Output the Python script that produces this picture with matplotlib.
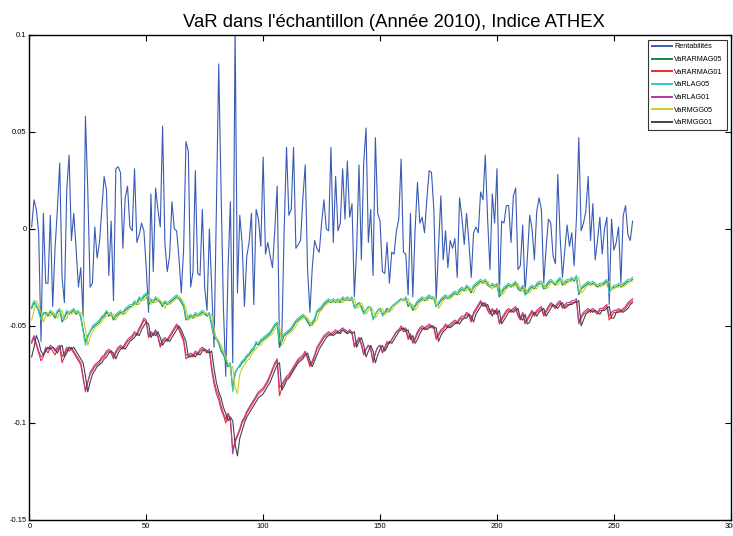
import matplotlib
matplotlib.use('Agg')
import matplotlib.pyplot as plt
import numpy as np

plt.rcParams['font.family'] = ['Liberation Sans', 'DejaVu Sans']

# rendements journaliers de l'indice ATHEX (2010)
rentabilites = [
    0.001, 0.015, 0.010, -0.002, -0.058, 0.008, -0.028, -0.028, 0.007, -0.040,
    -0.010, 0.010, 0.034, -0.025, -0.038, 0.020, 0.038, -0.006, 0.008, -0.010,
    -0.030, -0.020, -0.045, 0.058, 0.020, -0.030, -0.028, 0.001, -0.015, -0.007,
    0.010, 0.027, 0.020, -0.024, 0.004, -0.037, 0.031, 0.032, 0.029, -0.010,
    0.016, 0.022, 0.001, -0.001, 0.031, -0.007, -0.003, 0.003, -0.001, -0.020,
    -0.043, 0.018, -0.022, 0.021, 0.010, 0.001, 0.053, -0.008, -0.022, -0.014,
    0.014, 0.000, -0.001, -0.015, -0.033, -0.010, 0.045, 0.040, -0.030, -0.022,
    0.030, -0.023, -0.024, 0.010, -0.030, -0.042, 0.000, -0.030, -0.061, 0.010,
    0.085, 0.020, -0.040, -0.076, -0.020, 0.014, -0.069, 0.104, -0.033, 0.007,
    -0.007, -0.040, -0.014, -0.007, 0.008, -0.039, 0.010, 0.005, -0.009, 0.037,
    -0.013, -0.007, -0.014, -0.020, 0.000, 0.022, -0.061, -0.055, 0.000, 0.042,
    0.007, 0.010, 0.042, -0.010, -0.008, -0.006, 0.016, 0.033, -0.021, -0.043,
    -0.020, -0.006, -0.010, -0.012, 0.003, 0.015, 0.000, -0.001, 0.042, -0.007,
    0.027, -0.001, 0.003, 0.031, 0.005, 0.035, 0.006, 0.013, -0.035, -0.010,
    0.033, -0.016, 0.034, 0.052, -0.007, 0.010, -0.024, 0.047, 0.008, 0.004,
    -0.022, -0.023, -0.007, -0.028, -0.012, -0.013, -0.001, 0.005, 0.036, -0.012,
    -0.013, -0.034, 0.008, -0.035, 0.000, 0.024, 0.003, 0.006, -0.002, 0.015,
    0.030, 0.029, 0.010, -0.037, -0.010, 0.017, -0.016, -0.001, -0.020, -0.006,
    -0.010, -0.005, -0.025, 0.016, 0.006, -0.008, 0.008, -0.007, -0.025, -0.002,
    0.001, -0.002, 0.019, 0.015, 0.038, 0.005, -0.021, 0.018, 0.003, 0.031,
    -0.035, 0.004, 0.003, 0.012, 0.012, -0.007, 0.017, 0.021, -0.021, -0.019,
    0.002, -0.033, -0.015, 0.007, 0.000, -0.016, 0.009, 0.016, 0.010, -0.028,
    -0.010, 0.005, 0.003, -0.014, -0.018, 0.028, -0.004, -0.025, -0.011, 0.002,
    -0.009, -0.002, -0.019, 0.006, 0.047, -0.001, 0.003, 0.009, 0.027, -0.006,
    0.013, -0.016, -0.006, 0.006, -0.013, 0.000, 0.006, -0.039, 0.005, -0.011,
    -0.007, 0.001, -0.028, 0.007, 0.012, -0.003, -0.006, 0.004]

var_armag05 = [
    -0.041, -0.038, -0.040, -0.042, -0.046, -0.044, -0.043, -0.045, -0.043, -0.044,
    -0.046, -0.043, -0.042, -0.048, -0.046, -0.043, -0.044, -0.043, -0.042, -0.044,
    -0.043, -0.045, -0.052, -0.058, -0.055, -0.053, -0.051, -0.050, -0.049, -0.048,
    -0.046, -0.045, -0.043, -0.045, -0.044, -0.047, -0.045, -0.044, -0.043, -0.044,
    -0.042, -0.041, -0.040, -0.040, -0.038, -0.039, -0.036, -0.037, -0.035, -0.034,
    -0.039, -0.037, -0.038, -0.036, -0.037, -0.038, -0.040, -0.038, -0.039, -0.038,
    -0.037, -0.036, -0.035, -0.036, -0.038, -0.040, -0.047, -0.046, -0.045, -0.046,
    -0.044, -0.045, -0.044, -0.043, -0.044, -0.045, -0.044, -0.050, -0.056, -0.057,
    -0.059, -0.063, -0.065, -0.068, -0.071, -0.070, -0.083, -0.074, -0.072, -0.071,
    -0.069, -0.068, -0.066, -0.065, -0.063, -0.062, -0.059, -0.060, -0.058, -0.057,
    -0.056, -0.055, -0.054, -0.052, -0.050, -0.049, -0.061, -0.058, -0.055, -0.054,
    -0.053, -0.052, -0.050, -0.048, -0.047, -0.046, -0.045, -0.046, -0.048, -0.050,
    -0.049, -0.047, -0.043, -0.042, -0.041, -0.039, -0.038, -0.037, -0.038, -0.037,
    -0.038, -0.037, -0.038, -0.036, -0.037, -0.036, -0.037, -0.036, -0.040, -0.039,
    -0.038, -0.040, -0.043, -0.042, -0.040, -0.041, -0.046, -0.044, -0.042, -0.041,
    -0.044, -0.043, -0.041, -0.042, -0.040, -0.039, -0.038, -0.037, -0.036, -0.037,
    -0.036, -0.040, -0.039, -0.042, -0.040, -0.038, -0.037, -0.036, -0.037, -0.036,
    -0.035, -0.036, -0.036, -0.040, -0.039, -0.037, -0.036, -0.035, -0.036, -0.035,
    -0.034, -0.033, -0.034, -0.032, -0.031, -0.032, -0.030, -0.031, -0.033, -0.030,
    -0.029, -0.028, -0.027, -0.028, -0.027, -0.029, -0.030, -0.029, -0.030, -0.029,
    -0.035, -0.033, -0.031, -0.030, -0.029, -0.030, -0.029, -0.028, -0.031, -0.032,
    -0.030, -0.034, -0.033, -0.031, -0.030, -0.031, -0.029, -0.028, -0.028, -0.031,
    -0.030, -0.028, -0.027, -0.028, -0.029, -0.027, -0.026, -0.029, -0.028, -0.027,
    -0.027, -0.026, -0.027, -0.025, -0.034, -0.031, -0.030, -0.029, -0.028, -0.029,
    -0.028, -0.029, -0.030, -0.029, -0.029, -0.028, -0.027, -0.032, -0.031, -0.030,
    -0.030, -0.029, -0.030, -0.029, -0.028, -0.027, -0.027, -0.026]

var_armag01 = [
    -0.059, -0.056, -0.060, -0.064, -0.068, -0.066, -0.062, -0.064, -0.061, -0.063,
    -0.065, -0.062, -0.061, -0.069, -0.066, -0.062, -0.063, -0.062, -0.064, -0.066,
    -0.068, -0.070, -0.077, -0.083, -0.079, -0.075, -0.073, -0.071, -0.070, -0.069,
    -0.067, -0.066, -0.064, -0.063, -0.064, -0.067, -0.064, -0.062, -0.061, -0.062,
    -0.060, -0.058, -0.057, -0.056, -0.054, -0.055, -0.052, -0.050, -0.047, -0.048,
    -0.056, -0.054, -0.055, -0.053, -0.056, -0.061, -0.058, -0.057, -0.058, -0.056,
    -0.054, -0.052, -0.050, -0.052, -0.055, -0.058, -0.067, -0.066, -0.065, -0.066,
    -0.064, -0.065, -0.063, -0.062, -0.063, -0.064, -0.063, -0.073, -0.080, -0.085,
    -0.088, -0.093, -0.096, -0.100, -0.096, -0.099, -0.114, -0.110, -0.107, -0.104,
    -0.100, -0.098, -0.095, -0.093, -0.091, -0.089, -0.087, -0.085, -0.084, -0.083,
    -0.081, -0.079, -0.076, -0.073, -0.070, -0.068, -0.086, -0.082, -0.079, -0.077,
    -0.076, -0.074, -0.072, -0.070, -0.068, -0.067, -0.066, -0.064, -0.067, -0.071,
    -0.069, -0.066, -0.062, -0.060, -0.058, -0.056, -0.055, -0.054, -0.055, -0.054,
    -0.053, -0.054, -0.053, -0.052, -0.053, -0.054, -0.053, -0.054, -0.060, -0.058,
    -0.056, -0.059, -0.064, -0.062, -0.060, -0.062, -0.068, -0.064, -0.061, -0.060,
    -0.063, -0.061, -0.058, -0.059, -0.057, -0.055, -0.053, -0.052, -0.051, -0.053,
    -0.052, -0.057, -0.055, -0.059, -0.057, -0.054, -0.052, -0.051, -0.052, -0.051,
    -0.050, -0.051, -0.051, -0.057, -0.055, -0.053, -0.052, -0.050, -0.051, -0.050,
    -0.049, -0.048, -0.049, -0.047, -0.046, -0.046, -0.044, -0.045, -0.048, -0.044,
    -0.042, -0.040, -0.038, -0.040, -0.039, -0.042, -0.044, -0.042, -0.044, -0.042,
    -0.049, -0.047, -0.045, -0.043, -0.042, -0.043, -0.042, -0.041, -0.045, -0.047,
    -0.044, -0.049, -0.047, -0.045, -0.043, -0.045, -0.043, -0.042, -0.041, -0.045,
    -0.043, -0.041, -0.039, -0.040, -0.041, -0.039, -0.038, -0.041, -0.040, -0.039,
    -0.039, -0.038, -0.038, -0.037, -0.049, -0.046, -0.044, -0.043, -0.042, -0.043,
    -0.042, -0.043, -0.044, -0.042, -0.042, -0.041, -0.040, -0.047, -0.045, -0.043,
    -0.043, -0.042, -0.043, -0.042, -0.041, -0.039, -0.038, -0.037]

var_rlag05 = [
    -0.040, -0.037, -0.039, -0.043, -0.047, -0.043, -0.044, -0.044, -0.042, -0.043,
    -0.045, -0.042, -0.041, -0.046, -0.045, -0.042, -0.043, -0.042, -0.041, -0.043,
    -0.042, -0.046, -0.053, -0.060, -0.056, -0.053, -0.050, -0.049, -0.048, -0.047,
    -0.045, -0.044, -0.042, -0.044, -0.043, -0.046, -0.044, -0.043, -0.042, -0.043,
    -0.041, -0.040, -0.039, -0.039, -0.037, -0.038, -0.035, -0.036, -0.034, -0.033,
    -0.038, -0.036, -0.037, -0.035, -0.036, -0.037, -0.039, -0.037, -0.038, -0.037,
    -0.036, -0.035, -0.034, -0.035, -0.037, -0.039, -0.045, -0.045, -0.044, -0.045,
    -0.043, -0.044, -0.043, -0.042, -0.043, -0.044, -0.043, -0.049, -0.055, -0.056,
    -0.058, -0.062, -0.064, -0.067, -0.070, -0.069, -0.084, -0.075, -0.072, -0.070,
    -0.068, -0.067, -0.065, -0.064, -0.062, -0.061, -0.058, -0.059, -0.057, -0.056,
    -0.055, -0.054, -0.053, -0.051, -0.049, -0.048, -0.058, -0.056, -0.054, -0.053,
    -0.052, -0.051, -0.049, -0.047, -0.046, -0.045, -0.044, -0.045, -0.047, -0.049,
    -0.048, -0.046, -0.042, -0.041, -0.040, -0.038, -0.037, -0.036, -0.037, -0.036,
    -0.037, -0.036, -0.037, -0.035, -0.036, -0.035, -0.036, -0.035, -0.041, -0.040,
    -0.038, -0.041, -0.044, -0.042, -0.040, -0.041, -0.047, -0.044, -0.042, -0.041,
    -0.045, -0.044, -0.042, -0.043, -0.040, -0.039, -0.038, -0.037, -0.036, -0.037,
    -0.035, -0.039, -0.038, -0.041, -0.039, -0.037, -0.036, -0.035, -0.036, -0.035,
    -0.034, -0.035, -0.035, -0.040, -0.038, -0.036, -0.035, -0.034, -0.035, -0.034,
    -0.033, -0.032, -0.033, -0.031, -0.030, -0.031, -0.029, -0.030, -0.032, -0.029,
    -0.028, -0.027, -0.026, -0.027, -0.026, -0.028, -0.030, -0.028, -0.029, -0.028,
    -0.034, -0.032, -0.030, -0.029, -0.028, -0.029, -0.028, -0.027, -0.030, -0.031,
    -0.029, -0.034, -0.032, -0.030, -0.029, -0.030, -0.028, -0.027, -0.027, -0.030,
    -0.029, -0.027, -0.026, -0.027, -0.028, -0.026, -0.025, -0.028, -0.027, -0.026,
    -0.026, -0.025, -0.026, -0.024, -0.033, -0.030, -0.029, -0.028, -0.027, -0.028,
    -0.027, -0.028, -0.029, -0.028, -0.028, -0.027, -0.026, -0.033, -0.031, -0.029,
    -0.029, -0.028, -0.029, -0.028, -0.027, -0.026, -0.026, -0.025]

var_rlag01 = [
    -0.058, -0.055, -0.059, -0.063, -0.066, -0.065, -0.061, -0.062, -0.060, -0.061,
    -0.063, -0.061, -0.060, -0.066, -0.064, -0.061, -0.062, -0.061, -0.063, -0.065,
    -0.067, -0.069, -0.076, -0.084, -0.079, -0.074, -0.072, -0.070, -0.069, -0.068,
    -0.066, -0.065, -0.063, -0.062, -0.063, -0.066, -0.063, -0.061, -0.060, -0.061,
    -0.059, -0.057, -0.056, -0.055, -0.053, -0.054, -0.051, -0.049, -0.046, -0.047,
    -0.055, -0.053, -0.054, -0.052, -0.055, -0.060, -0.057, -0.056, -0.057, -0.055,
    -0.053, -0.051, -0.049, -0.051, -0.054, -0.057, -0.065, -0.065, -0.064, -0.065,
    -0.063, -0.064, -0.062, -0.061, -0.062, -0.063, -0.062, -0.071, -0.078, -0.083,
    -0.086, -0.091, -0.095, -0.098, -0.095, -0.098, -0.116, -0.109, -0.106, -0.103,
    -0.099, -0.097, -0.094, -0.092, -0.090, -0.088, -0.086, -0.084, -0.083, -0.082,
    -0.080, -0.078, -0.075, -0.072, -0.069, -0.067, -0.082, -0.080, -0.078, -0.076,
    -0.075, -0.073, -0.071, -0.069, -0.067, -0.066, -0.065, -0.063, -0.066, -0.070,
    -0.068, -0.065, -0.061, -0.059, -0.057, -0.055, -0.054, -0.053, -0.054, -0.053,
    -0.052, -0.053, -0.052, -0.051, -0.052, -0.053, -0.052, -0.053, -0.061, -0.059,
    -0.056, -0.060, -0.065, -0.062, -0.060, -0.062, -0.069, -0.064, -0.061, -0.060,
    -0.064, -0.062, -0.059, -0.059, -0.057, -0.055, -0.053, -0.052, -0.050, -0.052,
    -0.051, -0.056, -0.054, -0.058, -0.056, -0.053, -0.051, -0.050, -0.051, -0.050,
    -0.049, -0.050, -0.050, -0.056, -0.054, -0.052, -0.051, -0.049, -0.050, -0.049,
    -0.048, -0.047, -0.048, -0.046, -0.045, -0.045, -0.043, -0.044, -0.047, -0.043,
    -0.041, -0.039, -0.037, -0.039, -0.038, -0.041, -0.043, -0.041, -0.043, -0.041,
    -0.048, -0.046, -0.044, -0.042, -0.041, -0.042, -0.041, -0.040, -0.044, -0.046,
    -0.043, -0.048, -0.046, -0.044, -0.042, -0.044, -0.042, -0.041, -0.040, -0.044,
    -0.042, -0.040, -0.038, -0.039, -0.040, -0.038, -0.037, -0.040, -0.039, -0.038,
    -0.038, -0.037, -0.037, -0.036, -0.048, -0.045, -0.043, -0.042, -0.041, -0.042,
    -0.041, -0.042, -0.043, -0.041, -0.041, -0.040, -0.039, -0.045, -0.043, -0.042,
    -0.042, -0.041, -0.042, -0.041, -0.040, -0.038, -0.037, -0.036]

var_rmgg05 = [
    -0.047, -0.042, -0.037, -0.040, -0.043, -0.048, -0.045, -0.043, -0.045, -0.043,
    -0.044, -0.046, -0.043, -0.042, -0.047, -0.046, -0.043, -0.044, -0.043, -0.042,
    -0.044, -0.043, -0.045, -0.052, -0.060, -0.056, -0.053, -0.051, -0.050, -0.049,
    -0.048, -0.046, -0.045, -0.043, -0.045, -0.044, -0.047, -0.045, -0.044, -0.043,
    -0.044, -0.042, -0.041, -0.040, -0.039, -0.038, -0.039, -0.036, -0.037, -0.035,
    -0.034, -0.039, -0.037, -0.038, -0.036, -0.037, -0.038, -0.041, -0.038, -0.039,
    -0.038, -0.037, -0.036, -0.035, -0.036, -0.038, -0.041, -0.047, -0.046, -0.045,
    -0.046, -0.044, -0.045, -0.044, -0.043, -0.044, -0.045, -0.044, -0.051, -0.057,
    -0.058, -0.060, -0.063, -0.066, -0.069, -0.072, -0.071, -0.082, -0.085, -0.075,
    -0.072, -0.070, -0.068, -0.067, -0.065, -0.063, -0.062, -0.060, -0.060, -0.058,
    -0.057, -0.056, -0.055, -0.054, -0.052, -0.050, -0.050, -0.060, -0.058, -0.055,
    -0.054, -0.053, -0.052, -0.050, -0.048, -0.047, -0.046, -0.045, -0.046, -0.048,
    -0.050, -0.048, -0.047, -0.043, -0.042, -0.040, -0.039, -0.038, -0.037, -0.038,
    -0.037, -0.038, -0.036, -0.038, -0.036, -0.037, -0.036, -0.037, -0.036, -0.041,
    -0.040, -0.038, -0.041, -0.044, -0.042, -0.040, -0.042, -0.046, -0.044, -0.042,
    -0.041, -0.044, -0.043, -0.041, -0.042, -0.040, -0.039, -0.038, -0.037, -0.036,
    -0.037, -0.036, -0.040, -0.039, -0.042, -0.040, -0.038, -0.037, -0.036, -0.037,
    -0.036, -0.035, -0.036, -0.036, -0.041, -0.039, -0.037, -0.036, -0.035, -0.036,
    -0.035, -0.034, -0.033, -0.034, -0.032, -0.031, -0.032, -0.030, -0.031, -0.033,
    -0.030, -0.029, -0.028, -0.027, -0.028, -0.027, -0.029, -0.031, -0.029, -0.030,
    -0.029, -0.034, -0.033, -0.031, -0.030, -0.029, -0.030, -0.029, -0.028, -0.031,
    -0.032, -0.030, -0.033, -0.033, -0.031, -0.030, -0.031, -0.029, -0.028, -0.028,
    -0.031, -0.030, -0.028, -0.027, -0.028, -0.029, -0.027, -0.026, -0.029, -0.028,
    -0.027, -0.027, -0.026, -0.026, -0.025, -0.033, -0.032, -0.030, -0.029, -0.028,
    -0.029, -0.028, -0.029, -0.030, -0.029, -0.029, -0.028, -0.027, -0.031, -0.031,
    -0.030, -0.030, -0.029, -0.030, -0.029, -0.028, -0.027, -0.027]

var_rmgg01 = [
    -0.066, -0.061, -0.055, -0.058, -0.063, -0.065, -0.063, -0.061, -0.062, -0.061,
    -0.062, -0.064, -0.061, -0.060, -0.066, -0.064, -0.061, -0.062, -0.061, -0.063,
    -0.065, -0.067, -0.069, -0.076, -0.084, -0.079, -0.075, -0.073, -0.071, -0.070,
    -0.069, -0.067, -0.066, -0.064, -0.063, -0.064, -0.067, -0.064, -0.062, -0.061,
    -0.062, -0.060, -0.058, -0.057, -0.056, -0.054, -0.055, -0.052, -0.050, -0.048,
    -0.049, -0.056, -0.054, -0.055, -0.053, -0.056, -0.060, -0.058, -0.057, -0.058,
    -0.056, -0.054, -0.052, -0.050, -0.052, -0.055, -0.058, -0.066, -0.066, -0.065,
    -0.066, -0.064, -0.065, -0.063, -0.062, -0.063, -0.064, -0.063, -0.072, -0.079,
    -0.084, -0.087, -0.092, -0.095, -0.099, -0.097, -0.099, -0.111, -0.117, -0.108,
    -0.104, -0.100, -0.097, -0.095, -0.093, -0.091, -0.089, -0.087, -0.086, -0.085,
    -0.083, -0.081, -0.079, -0.076, -0.073, -0.070, -0.069, -0.083, -0.081, -0.078,
    -0.077, -0.075, -0.073, -0.071, -0.069, -0.068, -0.067, -0.065, -0.064, -0.068,
    -0.071, -0.068, -0.065, -0.062, -0.060, -0.058, -0.056, -0.055, -0.054, -0.055,
    -0.054, -0.053, -0.054, -0.052, -0.053, -0.054, -0.053, -0.054, -0.053, -0.061,
    -0.058, -0.056, -0.060, -0.066, -0.063, -0.060, -0.063, -0.069, -0.065, -0.062,
    -0.060, -0.063, -0.061, -0.058, -0.059, -0.057, -0.055, -0.053, -0.052, -0.051,
    -0.053, -0.052, -0.057, -0.055, -0.059, -0.057, -0.054, -0.052, -0.051, -0.052,
    -0.051, -0.050, -0.051, -0.051, -0.058, -0.055, -0.053, -0.052, -0.050, -0.051,
    -0.050, -0.049, -0.048, -0.049, -0.047, -0.046, -0.046, -0.044, -0.045, -0.048,
    -0.044, -0.042, -0.040, -0.038, -0.040, -0.039, -0.042, -0.045, -0.042, -0.044,
    -0.042, -0.049, -0.047, -0.045, -0.043, -0.042, -0.043, -0.042, -0.041, -0.046,
    -0.047, -0.044, -0.049, -0.048, -0.045, -0.043, -0.045, -0.043, -0.042, -0.041,
    -0.045, -0.043, -0.041, -0.039, -0.040, -0.041, -0.039, -0.038, -0.041, -0.040,
    -0.039, -0.039, -0.038, -0.038, -0.037, -0.050, -0.047, -0.044, -0.043, -0.042,
    -0.043, -0.042, -0.043, -0.044, -0.042, -0.042, -0.041, -0.040, -0.046, -0.046,
    -0.043, -0.043, -0.042, -0.043, -0.042, -0.041, -0.039, -0.038]

noms = ['Rentabilités', 'VaRARMAG05', 'VaRARMAG01', 'VaRLAG05', 'VaRLAG01', 'VaRMGG05', 'VaRMGG01']
series = [rentabilites, var_armag05, var_armag01, var_rlag05, var_rlag01, var_rmgg05, var_rmgg01]
couleurs = ['#3a5bb5', '#0f8a3c', '#f5282a', '#2ccdc4', '#b13a9e', '#cccc2a', '#444444']

fig = plt.figure(figsize=(7.33, 5.36), dpi=100)
ax = fig.add_axes([0.040, 0.030, 0.957, 0.905])
for s, c, n in zip(series, couleurs, noms):
    x = np.arange(1, len(s) + 1)
    ax.plot(x, s, color=c, lw=0.8, label=n)

ax.set_xlim(0, 300)
ax.set_ylim(-0.15, 0.1)
ax.set_xticks(np.arange(0, 301, 50))
ax.set_yticks([-0.15, -0.1, -0.05, 0, 0.05, 0.1])
ax.set_yticklabels(['-0.15', '-0.1', '-0.05', '0', '0.05', '0.1'])
ax.tick_params(direction='in', length=4, width=0.8, labelsize=5.5, top=True, right=True, pad=2)
for sp in ax.spines.values():
    sp.set_linewidth(1.0)

ax.set_title("VaR dans l'échantillon (Année 2010), Indice ATHEX", fontsize=13.3, pad=6, x=0.52)
leg = ax.legend(loc='upper right', bbox_to_anchor=(0.996, 0.993), fontsize=5.2, frameon=True,
                fancybox=False, edgecolor='black', borderpad=0.5, handlelength=2.8,
                labelspacing=0.78, handletextpad=0.35, borderaxespad=0.2)
leg.get_frame().set_linewidth(0.8)
for ln in leg.get_lines():
    ln.set_linewidth(1.4)

fig.savefig('out.png', dpi=100)
